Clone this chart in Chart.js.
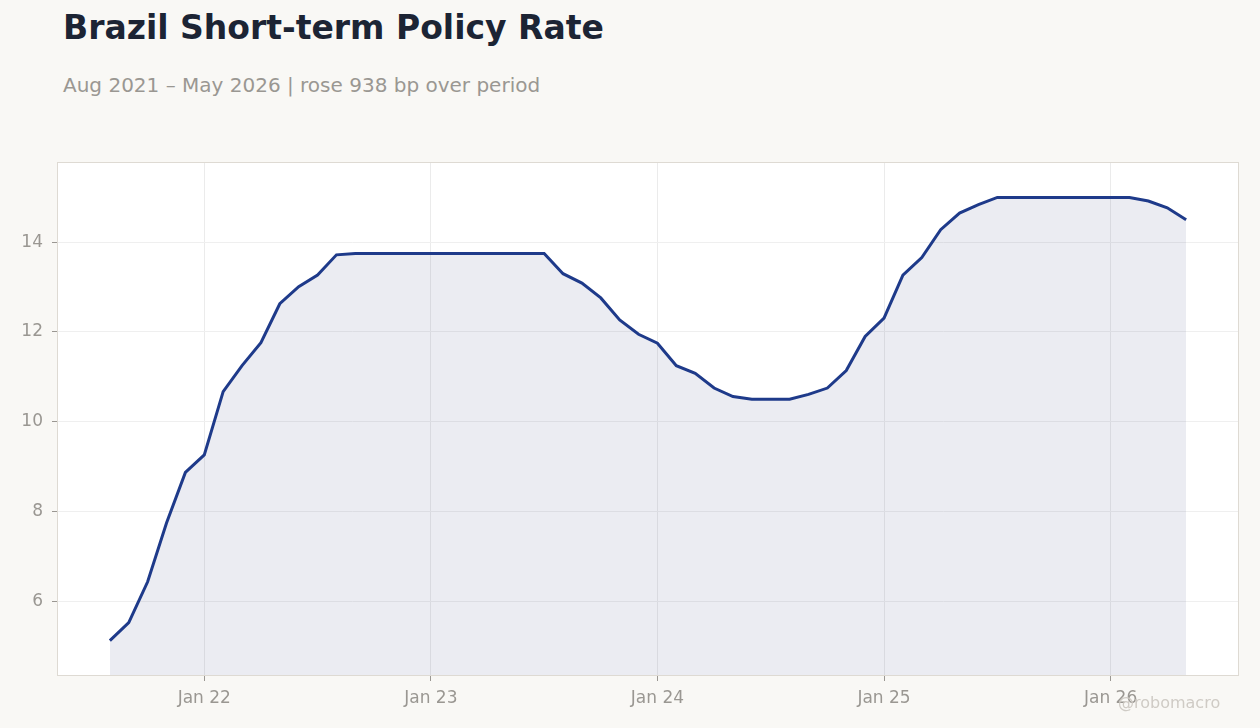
<!DOCTYPE html>
<html>
<head>
<meta charset="utf-8">
<script src="https://cdn.jsdelivr.net/npm/chart.js@4.4.1/dist/chart.umd.min.js"></script>
<style>
    body { margin: 0; width: 1260px; height: 728px; overflow: hidden; background: #f9f8f5; font-family: "DejaVu Sans", sans-serif; position: relative; }
    h1 { position: absolute; left: 63px; top: 11px; margin: 0; font-size: 33px; line-height: 1; font-weight: bold; color: #1c2434; }
    .sub { position: absolute; left: 63px; top: 75px; font-size: 20px; line-height: 1; color: #9a9792; }
    #wrap { position: absolute; left: 0; top: 140px; width: 1260px; height: 588px; }
    .mark { position: absolute; left: 1118px; top: 695px; font-size: 16px; line-height: 1; color: #cfcbc5; }
</style>
</head>
<body>
<h1>Brazil Short-term Policy Rate</h1>
<div class="sub">Aug 2021 – May 2026 | rose 938 bp over period</div>
<div id="wrap"><canvas id="chart"></canvas></div>
<div class="mark">@robomacro</div>
<script>
const months = [
    '2021-08', '2021-09', '2021-10', '2021-11', '2021-12',
    '2022-01', '2022-02', '2022-03', '2022-04', '2022-05', '2022-06', '2022-07', '2022-08', '2022-09', '2022-10', '2022-11', '2022-12',
    '2023-01', '2023-02', '2023-03', '2023-04', '2023-05', '2023-06', '2023-07', '2023-08', '2023-09', '2023-10', '2023-11', '2023-12',
    '2024-01', '2024-02', '2024-03', '2024-04', '2024-05', '2024-06', '2024-07', '2024-08', '2024-09', '2024-10', '2024-11', '2024-12',
    '2025-01', '2025-02', '2025-03', '2025-04', '2025-05', '2025-06', '2025-07', '2025-08', '2025-09', '2025-10', '2025-11', '2025-12',
    '2026-01', '2026-02', '2026-03', '2026-04', '2026-05'
];
const rates = [
    5.12, 5.52, 6.43, 7.74, 8.87,
    9.26, 10.67, 11.25, 11.76, 12.63, 13.01, 13.27, 13.72, 13.75, 13.75, 13.75, 13.75,
    13.75, 13.75, 13.75, 13.75, 13.75, 13.75, 13.75, 13.30, 13.09, 12.76, 12.27, 11.95,
    11.75, 11.25, 11.08, 10.75, 10.56, 10.50, 10.50, 10.50, 10.61, 10.75, 11.14, 11.90,
    12.31, 13.27, 13.66, 14.28, 14.65, 14.84, 15.00, 15.00, 15.00, 15.00, 15.00, 15.00,
    15.00, 15.00, 14.92, 14.77, 14.50
];
const tickMonths = ['2022-01', '2023-01', '2024-01', '2025-01', '2026-01'];
const tickLabels = ['Jan 22', 'Jan 23', 'Jan 24', 'Jan 25', 'Jan 26'];
const yTicks = [6, 8, 10, 12, 14];

const tickIndex = tickMonths.map(m => months.indexOf(m));

// white plot background + thin border round the chart area
const frame = {
    id: 'frame',
    beforeDraw(chart) {
        const { ctx, chartArea: a } = chart;
        ctx.save();
        ctx.fillStyle = '#ffffff';
        ctx.fillRect(a.left, a.top, a.right - a.left, a.bottom - a.top);
        ctx.restore();
    },
    afterDraw(chart) {
        const { ctx, chartArea: a } = chart;
        ctx.save();
        ctx.strokeStyle = '#dedad3';
        ctx.lineWidth = 1;
        ctx.strokeRect(a.left + 0.5, a.top + 0.5, a.right - a.left - 1, a.bottom - a.top - 1);
        ctx.restore();
    }
};

new Chart(document.getElementById('chart'), {
    type: 'line',
    data: {
        datasets: [{
            data: rates.map((v, i) => ({ x: i, y: v })),
            borderColor: '#1e3a8a',
            borderWidth: 3,
            backgroundColor: 'rgba(60, 70, 130, 0.1)',
            fill: 'start',
            pointRadius: 0,
            tension: 0
        }]
    },
    options: {
        responsive: true,
        maintainAspectRatio: false,
        animation: false,
        devicePixelRatio: 1,
        layout: { padding: { top: 22, right: 21, left: 0, bottom: 0 } },
        plugins: { legend: { display: false }, tooltip: { enabled: false } },
        scales: {
            x: {
                type: 'linear',
                min: -2.8,
                max: 59.8,
                afterBuildTicks: s => { s.ticks = tickIndex.map(v => ({ value: v })); },
                afterFit: s => { s.height = 52; },
                grid: { color: '#ebebeb', tickColor: '#9a9792', tickLength: 5 },
                border: { display: false },
                ticks: {
                    color: '#9a9792',
                    font: { family: 'DejaVu Sans', size: 17 },
                    padding: 7,
                    maxRotation: 0,
                    callback: v => tickLabels[tickIndex.indexOf(v)] || ''
                }
            },
            y: {
                min: 4.33,
                max: 15.79,
                afterBuildTicks: s => { s.ticks = yTicks.map(v => ({ value: v })); },
                afterFit: s => { s.width = 57; },
                grid: { color: '#efefef', tickColor: '#9a9792', tickLength: 5 },
                border: { display: false },
                ticks: {
                    color: '#9a9792',
                    font: { family: 'DejaVu Sans', size: 17 },
                    padding: 9
                }
            }
        }
    },
    plugins: [frame]
});
</script>
</body>
</html>
